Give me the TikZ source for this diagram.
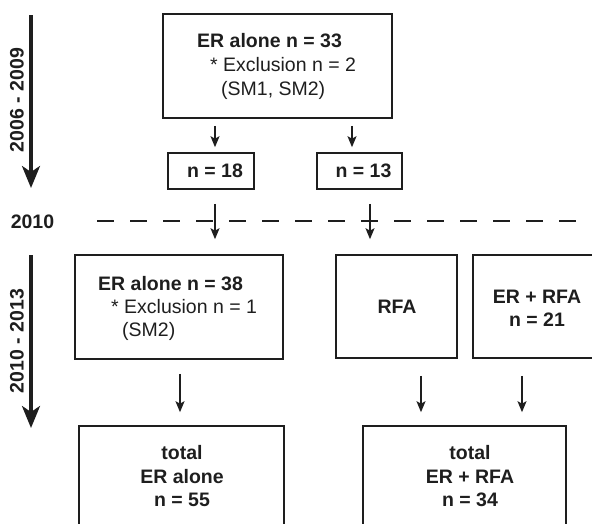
\documentclass[tikz,border=0pt]{standalone}
\usepackage{fontspec}
\setmainfont{Liberation Sans}
\usetikzlibrary{arrows.meta}
\definecolor{ink}{HTML}{1E1E1E}
\begin{document}
\begin{tikzpicture}[x=1pt,y=-1pt,
  box/.style={draw=ink,line width=1.6pt,rectangle,inner sep=0pt},
  txt/.style={text=ink,inner sep=0pt,font=\fontsize{19.5}{23.5}\selectfont},
  btxt/.style={txt,font=\fontsize{19.5}{23.5}\selectfont\bfseries},
  arr/.style={draw=ink,line width=1.5pt,-{Stealth[length=11pt,width=9pt,inset=2.5pt]}},
  timearr/.style={draw=ink,line width=3.4pt,-{Stealth[length=22pt,width=18pt,inset=6pt]}},
  dashline/.style={draw=ink,line width=1.5pt,dash pattern=on 17pt off 16pt}]
\useasboundingbox (0,0) rectangle (592,523);
\clip (0,0) rectangle (592,523);
% boxes
\node[box,minimum width=229,minimum height=104] (top) at (277.5,66) {};
\node[box,minimum width=86,minimum height=36] (n18) at (211,171) {};
\node[box,minimum width=85,minimum height=36] (n13) at (359.5,171) {};
\node[box,minimum width=208,minimum height=104] (er38) at (179,307) {};
\node[box,minimum width=121,minimum height=103] (rfa) at (396.5,306.5) {};
\node[box,minimum width=140,minimum height=103] (errfa) at (543,306.5) {};
\node[box,minimum width=205,minimum height=124] (totA) at (181.5,488) {};
\node[box,minimum width=203,minimum height=124] (totB) at (464.5,488) {};
% texts
\node[btxt,anchor=base west] (t1a) at (197,47) {ER alone n = 33};
\node[txt,anchor=base west] (t1b) at (210,71) {* Exclusion n = 2};
\node[txt,anchor=base west] (t1c) at (221,95) {(SM1, SM2)};
\node[btxt] (t18) at (215,171) {n = 18};
\node[btxt] (t13) at (363.5,171) {n = 13};
\node[btxt,anchor=base west] (t2a) at (98,290) {ER alone n = 38};
\node[txt,anchor=base west] (t2b) at (111,313) {* Exclusion n = 1};
\node[txt,anchor=base west] (t2c) at (122,336) {(SM2)};
\node[btxt] (trfa) at (397,307) {RFA};
\node[btxt,align=center] (terrfa) at (537,308.5) {ER + RFA\\n = 21};
\node[btxt,align=center] (ttotA) at (182,476.5) {total\\ER alone\\n = 55};
\node[btxt,align=center] (ttotB) at (470,476.5) {total\\ER + RFA\\n = 34};
% time axis
\coordinate (t1s) at (31,15);
\coordinate (t1e) at (31,188);
\coordinate (t2s) at (31,255);
\coordinate (t2e) at (31,428);
\draw[timearr] (t1s) -- (t1e);
\draw[timearr] (t2s) -- (t2e);
\node[btxt,rotate=90] (y1) at (17,100) {2006 - 2009};
\node[btxt,rotate=90] (y2) at (17,341) {2010 - 2013};
\node[btxt] (y3) at (32.5,222) {2010};
% dashed separator
\coordinate (d0) at (97,221);
\coordinate (d1) at (600,221);
\draw[dashline] (d0) -- (d1);
% arrows
\coordinate (xa) at (215,0);
\coordinate (xb) at (352,0);
\coordinate (xc) at (370,0);
\coordinate (xd) at (180,0);
\coordinate (xe) at (421,0);
\coordinate (xf) at (522,0);
\draw[arr,shorten <=7pt,shorten >=5pt] (top.south -| xa) -- (n18.north -| xa);
\draw[arr,shorten <=7pt,shorten >=5pt] (top.south -| xb) -- (n13.north -| xb);
\draw[arr,shorten <=14pt,shorten >=15pt] (n18.south -| xa) -- (er38.north -| xa);
\draw[arr,shorten <=14pt,shorten >=15pt] (n13.south -| xc) -- (rfa.north -| xc);
\draw[arr,shorten <=14pt,shorten >=13pt] (er38.south -| xd) -- (totA.north -| xd);
\draw[arr,shorten <=17pt,shorten >=13pt] (rfa.south -| xe) -- (totB.north -| xe);
\draw[arr,shorten <=17pt,shorten >=13pt] (errfa.south -| xf) -- (totB.north -| xf);
\end{tikzpicture}
\end{document}
